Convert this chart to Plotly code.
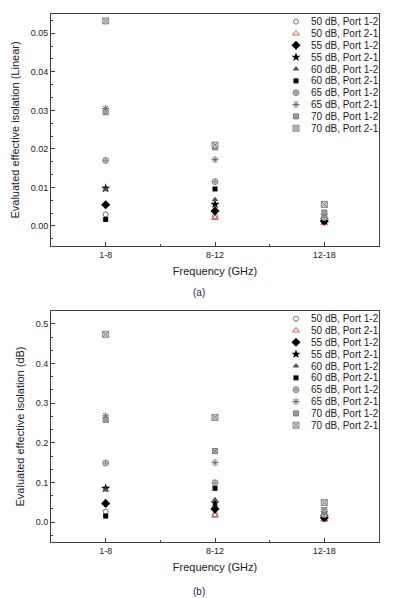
import plotly.graph_objects as go

# ---------------- data ----------------
categories = ["1-8", "8-12", "12-18"]

series_names = [
    "50 dB, Port 1-2", "50 dB, Port 2-1",
    "55 dB, Port 1-2", "55 dB, Port 2-1",
    "60 dB, Port 1-2", "60 dB, Port 2-1",
    "65 dB, Port 1-2", "65 dB, Port 2-1",
    "70 dB, Port 1-2", "70 dB, Port 2-1",
]

# (a) Linear
lin_50_p12 = [0.0030, 0.0025, 0.0010]
lin_50_p21 = [0.0057, 0.0021, 0.0007]
lin_55_p12 = [0.0055, 0.0039, 0.0013]
lin_55_p21 = [0.0098, 0.0056, 0.0017]
lin_60_p12 = [0.0094, 0.0068, 0.0019]
lin_60_p21 = [0.0017, 0.0096, 0.0012]
lin_65_p12 = [0.0170, 0.0115, 0.0022]
lin_65_p21 = [0.0305, 0.0172, 0.0030]
lin_70_p12 = [0.0295, 0.0204, 0.0035]
lin_70_p21 = [0.0532, 0.0210, 0.0056]

# (b) dB
db_50_p12 = [0.026, 0.019, 0.008]
db_50_p21 = [0.048, 0.016, 0.006]
db_55_p12 = [0.047, 0.033, 0.011]
db_55_p21 = [0.085, 0.048, 0.014]
db_60_p12 = [0.081, 0.056, 0.016]
db_60_p21 = [0.015, 0.085, 0.010]
db_65_p12 = [0.149, 0.099, 0.019]
db_65_p21 = [0.268, 0.150, 0.026]
db_70_p12 = [0.258, 0.179, 0.030]
db_70_p21 = [0.474, 0.264, 0.049]

linear_values = [lin_50_p12, lin_50_p21, lin_55_p12, lin_55_p21, lin_60_p12,
                 lin_60_p21, lin_65_p12, lin_65_p21, lin_70_p12, lin_70_p21]
db_values = [db_50_p12, db_50_p21, db_55_p12, db_55_p21, db_60_p12,
             db_60_p21, db_65_p12, db_65_p21, db_70_p12, db_70_p21]

# ---------------- styles ----------------
FONT = "Liberation Sans, Arial, sans-serif"
AX = "#404040"

styles = [
    dict(symbol="circle-open", size=5, color="#707070", line=dict(width=1, color="#707070")),
    dict(symbol="triangle-up-open", size=6, color="#e5504a", line=dict(width=1, color="#e5504a")),
    dict(symbol="diamond", size=7, color="#000000", line=dict(width=0)),
    dict(symbol="star", size=7, color="#000000", line=dict(width=0)),
    dict(symbol="triangle-up", size=6, color="#505050", line=dict(width=0)),
    dict(symbol="square", size=5, color="#000000", line=dict(width=0)),
    dict(symbol="circle-cross", size=6, color="#c8c8c8", line=dict(width=1, color="#8a8a8a")),
    dict(symbol="asterisk-open", size=6, color="#6a6a6a", line=dict(width=1, color="#6a6a6a")),
    dict(symbol="square-x", size=5, color="#bdbdbd", line=dict(width=1, color="#7a7a7a")),
    dict(symbol="square-x", size=6, color="#cfcfcf", line=dict(width=1, color="#8a8a8a")),
]

# figure geometry (pixels)
W, H = 394, 598
L, R, T, B = 51, 15, 14, 56
PLOT_H = H - T - B
top_panel = (14, 246)
bot_panel = (311, 542)

xpos = list(range(len(categories)))

fig = go.Figure()
for name, st, lin, db in zip(series_names, styles, linear_values, db_values):
    fig.add_trace(go.Scatter(x=xpos, y=lin, mode="markers", marker=st, name=name,
                             showlegend=False, xaxis="x", yaxis="y", cliponaxis=False))
    fig.add_trace(go.Scatter(x=xpos, y=db, mode="markers", marker=st, name=name,
                             showlegend=False, xaxis="x2", yaxis="y2", cliponaxis=False))

# ---------------- manual legends (pixel-space hidden axes) ----------------
row_gap = 11.85
key_x = 296
text_x = 309
annotations = []
for panel in (top_panel, bot_panel):
    for i, (name, st) in enumerate(zip(series_names, styles)):
        yy = panel[0] + 7.6 + i * row_gap
        fig.add_trace(go.Scatter(x=[key_x], y=[yy], mode="markers", marker=st,
                                 showlegend=False, hoverinfo="skip",
                                 xaxis="x3", yaxis="y3", cliponaxis=False))
        annotations.append(dict(x=text_x, y=yy, xref="x3", yref="y3", text=name,
                                showarrow=False, xanchor="left", yanchor="middle",
                                font=dict(size=10, color="#222222", family=FONT)))

# captions
annotations.append(dict(x=(199 - L) / (W - L - R), y=(H - B - 293) / PLOT_H, xref="paper", yref="paper",
                        text="(a)", showarrow=False, xanchor="center", yanchor="middle",
                        font=dict(size=10, color="#1a2a50", family=FONT)))
annotations.append(dict(x=(199 - L) / (W - L - R), y=(H - B - 591) / PLOT_H, xref="paper", yref="paper",
                        text="(b)", showarrow=False, xanchor="center", yanchor="middle",
                        font=dict(size=10, color="#1a2a50", family=FONT)))

def dom(panel):
    return [(H - B - panel[1]) / PLOT_H, (H - B - panel[0]) / PLOT_H]

common = dict(showline=True, linecolor=AX, linewidth=1, mirror=True, showgrid=False,
              zeroline=False, ticks="inside", ticklen=4, tickcolor=AX, tickwidth=1,
              tickfont=dict(size=9, color="#222222", family=FONT))

xminor = dict(tickmode="array", tickvals=[i + 0.5 for i in xpos[:-1]],
              ticks="inside", ticklen=2, tickcolor=AX)

fig.update_layout(
    width=W, height=H,
    margin=dict(l=L, r=R, t=T, b=B),
    paper_bgcolor="white", plot_bgcolor="rgba(0,0,0,0)",
    showlegend=False,
    font=dict(family=FONT, color="#222222"),
    annotations=annotations,
    xaxis=dict(domain=[0, 1], anchor="y", range=[-0.5, 2.5], tickmode="array",
               tickvals=xpos, ticktext=categories, minor=xminor,
               title=dict(text="Frequency (GHz)", font=dict(size=11), standoff=8), **common),
    yaxis=dict(domain=dom(top_panel), anchor="x", range=[-0.0052, 0.0550], tickmode="linear",
               tick0=0, dtick=0.01, tickformat=".2f",
               minor=dict(tickmode="linear", tick0=0, dtick=0.01 / 3, ticks="inside", ticklen=2, tickcolor=AX),
               title=dict(text="Evaluated effective isolation (Linear)", font=dict(size=11), standoff=8),
               **common),
    xaxis2=dict(domain=[0, 1], anchor="y2", range=[-0.5, 2.5], tickmode="array",
                tickvals=xpos, ticktext=categories, minor=xminor,
                title=dict(text="Frequency (GHz)", font=dict(size=11), standoff=8), **common),
    yaxis2=dict(domain=dom(bot_panel), anchor="x2", range=[-0.0505, 0.5328], tickmode="linear",
                tick0=0, dtick=0.1, tickformat=".1f",
                minor=dict(tickmode="linear", tick0=0, dtick=0.1 / 3, ticks="inside", ticklen=2, tickcolor=AX),
                title=dict(text="Evaluated effective isolation (dB)", font=dict(size=11), standoff=8),
                **common),
    xaxis3=dict(domain=[0, 1], anchor="y3", range=[L, W - R], visible=False, fixedrange=True),
    yaxis3=dict(domain=[0, 1], anchor="x3", range=[H - B, T], visible=False, fixedrange=True),
)

fig.write_html("out.html",
               config={"displayModeBar": False},
               post_script="document.body.style.margin='0';document.body.style.overflow='hidden';")
